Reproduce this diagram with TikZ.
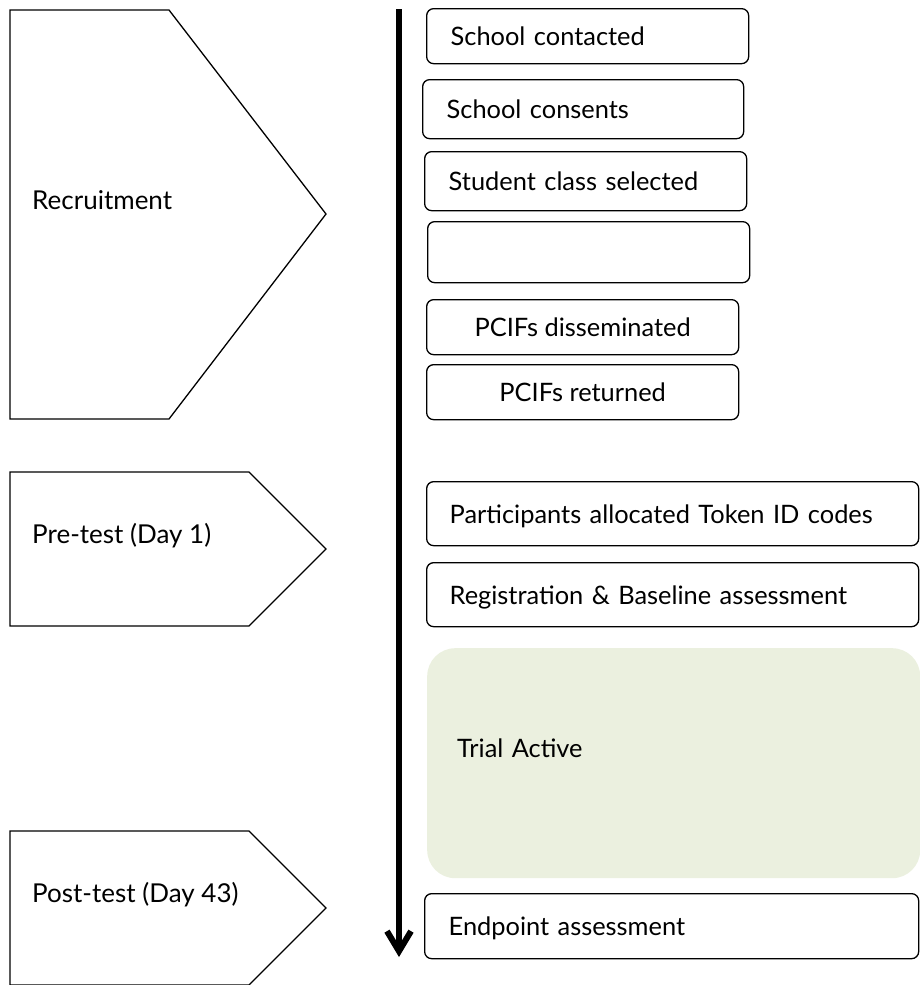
\documentclass[tikz,border=0pt]{standalone}
\usepackage{fontspec}
\setmainfont{Lato}
\usetikzlibrary{arrows.meta}
\definecolor{vertpale}{RGB}{235,240,223}
\begin{document}
\begin{tikzpicture}[x=1pt,y=-1pt]
% Styles
\tikzstyle{cadre}=[line width=1.3pt,line join=miter]
\tikzstyle{texte}=[font=\fontsize{26}{31}\selectfont,inner sep=0pt]
\tikzstyle{etape}=[draw,line width=1.3pt,rounded corners=7pt,font=\fontsize{25.4}{30}\selectfont,inner xsep=24pt,text height=19pt,text depth=-4pt,anchor=north west]
\tikzstyle{actif}=[fill=vertpale,rounded corners=28pt,font=\fontsize{25.4}{30}\selectfont,inner xsep=30pt,text height=19pt,text depth=30pt,anchor=north west]
\tikzstyle{fleche}=[-{Straight Barb[length=20pt,width=24pt]},line width=6pt]
% Dimensions
\def\gauche{10}
\def\epaule{249}
\def\pointe{326}
\def\droite{918}
% Cadre de l'image
\useasboundingbox (0,0) rectangle (919,985);
% Phases : Recrutement, Pre-test, Post-test
\draw[cadre] (\gauche,10) -- (169,10) -- (\pointe,214) -- (169,419) -- (\gauche,419) -- cycle;
\draw[cadre] (\gauche,472) -- (\epaule,472) -- (\pointe,549) -- (\epaule,626) -- (\gauche,626) -- cycle;
\draw[cadre] (\gauche,831) -- (\epaule,831) -- (\pointe,908) -- (\epaule,985) -- (\gauche,985) -- cycle;
\node[texte,anchor=base west] (recrutement) at (32,209) {Recruitment};
\node[texte,anchor=base west] (pretest) at (32,543) {Pre-test (Day 1)};
\node[texte,anchor=base west] (posttest) at (32,902) {Post-test (Day 43)};
% Axe du temps
\coordinate (haut) at (399,9);
\coordinate (bas) at (399,957);
\draw[fleche] (haut) -- (bas);
% Etapes du recrutement
\node[etape,minimum height=55pt,text width=274pt] (contact) at (426,8) {School contacted};
\node[etape,minimum height=59pt,text width=273pt] (accord) at (422,79) {School consents};
\node[etape,minimum height=59pt,text width=274pt] (classe) at (424,151) {Student class selected};
\node[etape,minimum height=61pt,text width=274pt] (vide) at (427,221) {};
\node[etape,minimum height=55pt,minimum width=312pt] (diffuses) at (426,299) {PCIFs disseminated};
\node[etape,minimum height=55pt,minimum width=312pt] (retournes) at (426,364) {PCIFs returned};
% Etapes du pre-test
\node[etape,minimum height=64pt,inner xsep=23pt,text width=446pt] (codes) at (426,481) {Participants allocated Token ID codes};
\node[etape,minimum height=64pt,inner xsep=23pt,text width=446pt] (inscription) at (426,562) {Registration \& Baseline assessment};
% Essai en cours
\node[actif,minimum height=230pt,text width=433pt] (essai) at (427,648) {Trial Active};
% Etape du post-test
\node[etape,minimum height=65pt,text width=446pt] (fin) at (424,893) {Endpoint assessment};
\end{tikzpicture}
\end{document}
